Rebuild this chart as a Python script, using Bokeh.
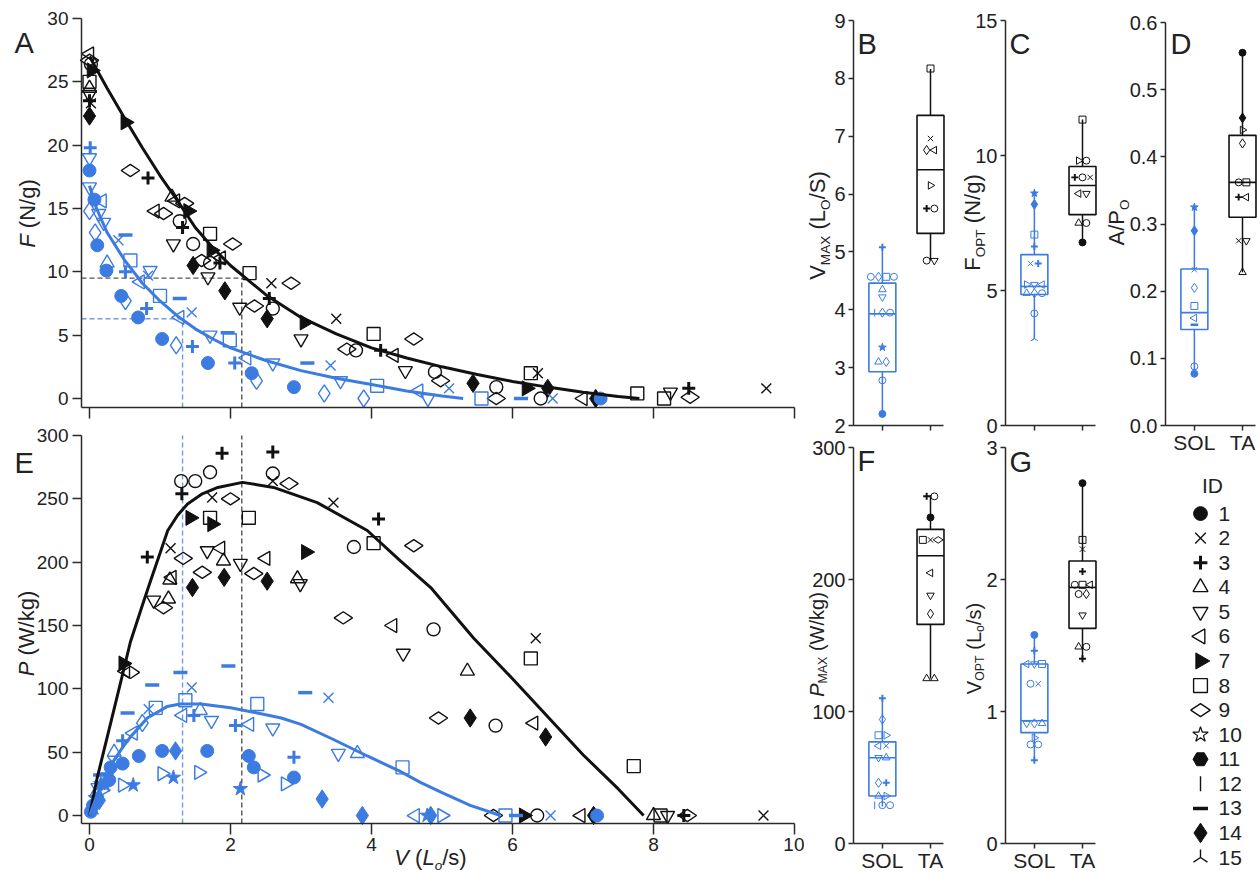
import math
from bokeh.plotting import figure
from bokeh.models import Range1d, FixedTicker, Label, ColumnDataSource, NumeralTickFormatter
from bokeh.layouts import row, column
from bokeh.embed import file_html
from bokeh.resources import INLINE
from bokeh.core.properties import value

# ======================= DATA =======================
# Panel A : force-velocity, TA (black)
ta_fv_v = [0.0, 0.0, 0.02, 0.03, 0.0, 0.0, 0.0, 0.0, 0.02, 0.0,
           0.51, 0.58, 0.83, 1.17, 1.22, 1.35, 1.40, 0.93, 1.05, 1.28, 1.32, 1.19, 1.47, 1.71,
           1.73, 1.71, 1.59, 1.47, 1.85, 1.87, 2.03, 1.68, 1.92, 2.27, 2.13, 2.34, 2.58, 2.86,
           2.55, 2.60, 2.52, 3.05, 3.00, 3.50, 3.65, 3.78, 4.03, 4.13, 4.32, 4.60, 4.48, 4.90,
           4.98, 5.44, 5.77, 5.77, 6.26, 6.36, 6.20, 6.50, 6.40, 7.00, 7.18, 7.77, 8.15, 8.24,
           8.50, 8.52, 9.60]
ta_fv_f = [27.2, 26.7, 26.4, 25.9, 25.0, 24.5, 24.0, 23.5, 23.3, 22.3,
           21.8, 18.0, 17.4, 15.9, 15.6, 15.4, 14.8, 14.8, 14.6, 14.0, 13.5, 12.2, 12.2, 13.0,
           11.7, 10.7, 10.9, 10.5, 10.7, 11.1, 12.2, 9.6, 8.5, 9.9, 7.2, 7.3, 9.1, 9.1,
           7.9, 7.1, 6.3, 6.0, 4.7, 6.3, 3.9, 3.8, 5.1, 3.8, 3.4, 4.7, 2.2, 2.1,
           1.4, 1.2, 0.9, 0.0, 2.0, 2.0, 0.8, 0.8, 0.0, 0.0, 0.0, 0.4, 0.0, 0.5,
           0.8, 0.1, 0.8]
ta_fv_mark = ['<', 'd', 'oo', '>f', 's', '^', 'v', '+', 'x', 'D',
              '>f', 'd', '+', '^', '<', 'd', '>f', '<', 'd', 'oo', '+', 'v', 'oo', 's',
              '>f', 'oo', 'd', 'D', '+', '<', 'd', 'v', 'D', 's', 'v', 'd', 'x', 'd',
              '+', 'oo', 'D', '>f', 'v', 'x', 'd', 'oo', 's', '+', '<', 'd', 'v', 'oo',
              'd', 'D', 'oo', 'd', 's', 'x', '>f', 'D', 'oo', '<', 'D', 's', 's', 'v',
              '+', 'd', 'x']

# Panel A : force-velocity, SOL (blue)
sol_fv_v = [0.01, 0.0, 0.0, 0.0, 0.07, 0.18, 0.0, 0.13, 0.08, 0.20, 0.11, 0.41, 0.51, 0.24,
            0.25, 0.51, 0.58, 0.86, 0.83, 0.72, 0.45, 0.51, 1.00, 1.28, 0.69, 0.81, 1.28, 1.45,
            1.03, 1.23, 1.46, 1.71, 1.96, 1.99, 1.68, 2.06, 2.23, 2.30, 2.37, 2.60, 2.90, 3.09,
            3.42, 3.56, 3.33, 3.89, 4.08, 4.67, 4.80, 5.10, 5.56, 6.12, 6.57, 7.25]
sol_fv_f = [19.8, 19.0, 18.0, 16.7, 15.7, 15.6, 14.8, 14.6, 13.1, 13.9, 12.1, 12.5, 12.9, 10.1,
            10.7, 10.0, 10.9, 10.1, 9.7, 9.2, 8.1, 7.7, 8.1, 7.9, 6.4, 7.1, 6.4, 6.8,
            4.7, 4.2, 4.1, 5.0, 5.2, 4.6, 2.8, 2.8, 3.2, 2.0, 1.4, 2.8, 0.9, 2.8,
            2.6, 1.4, 0.4, 0.0, 1.0, 0.6, 0.0, 0.8, 0.0, 0.0, 0.0, 0.0]
sol_fv_mark = ['+', 'v', 'o', 'v', 'o', '<', 'dn', 'v', 'dn', 'v', 'o', 'x', '-', 'o',
               '^', '+', 's', 'v', 'x', '<', 'o', 'dn', 's', '-', 'o', '+', '<', 'x',
               'o', 'dn', '+', 'v', '-', 's', 'o', '+', '<', 'o', 'dn', 'v', 'o', '-',
               'x', 'v', 'dn', 'dn', 's', '<', 'v', 'x', 's', '-', 'x', 'o']

# Panel A fitted curves
ta_fv_curve_v = [0, 0.25, 0.5, 0.75, 1.0, 1.25, 1.5, 1.75, 2.0, 2.5, 3.0, 3.5, 4.0, 4.5, 5.0,
                 5.5, 6.0, 6.5, 7.0, 7.5, 7.8]
ta_fv_curve_f = [27.0, 24.5, 22.1, 19.8, 17.6, 15.6, 13.5, 11.9, 10.5, 8.2, 6.4, 5.1, 4.0, 3.2,
                 2.5, 1.9, 1.35, 0.9, 0.5, 0.15, 0.0]
sol_fv_curve_v = [0, 0.1, 0.25, 0.5, 0.75, 1.0, 1.25, 1.5, 1.75, 2.0, 2.5, 3.0, 3.5, 4.0, 4.5,
                  5.0, 5.3]
sol_fv_curve_f = [16.8, 15.0, 13.1, 10.9, 9.1, 7.7, 6.5, 5.5, 4.7, 4.0, 3.0, 2.2, 1.6, 1.1, 0.6,
                  0.2, 0.0]

# optimum (dashed guide lines)
ta_v_opt, ta_f_opt = 2.16, 9.5
sol_v_opt, sol_f_opt = 1.32, 6.3

# Panel E : power-velocity, TA (black)
ta_pv_v = [0.48, 0.51, 0.58, 0.82, 1.15, 0.91, 1.12, 1.05, 1.17, 1.14, 1.33, 1.30, 1.50, 1.71,
           1.31, 1.88, 1.43, 1.71, 1.74, 1.74, 2.00, 1.46, 1.60, 1.67, 1.86, 1.90, 1.91, 2.14,
           2.33, 2.26, 2.50, 2.52, 2.60, 2.60, 2.60, 2.83, 3.07, 2.95, 2.99, 3.46, 4.10, 3.75,
           4.03, 4.60, 3.60, 4.30, 4.88, 6.33, 4.45, 5.36, 6.26, 4.95, 5.40, 5.76, 6.30, 6.47,
           7.72, 5.73, 6.16, 6.35, 6.97, 7.15, 8.00, 8.10, 8.20, 8.43, 8.48, 9.56]
ta_pv_p = [120, 114, 113, 204, 211, 170, 171, 164, 188, 186, 203, 264, 264, 271,
           254, 286, 235, 235, 230, 251, 250, 180, 192, 209, 211, 201, 188, 199,
           191, 235, 203, 185, 287, 270, 264, 262, 208, 187, 183, 247, 234, 212,
           215, 213, 156, 150, 147, 140, 128, 114, 124, 77, 77, 71, 73, 62,
           39, 0, 0, 0, 0, 0, 0, 0, 0, 0, 0, 0]
ta_pv_mark = ['>f', '<', 'd', '+', 'x', 'v', '^', 'd', '<', '^', 'd', 'oo', 'oo', 'oo',
              '+', '+', '>f', 's', '>f', 'x', 'd', 'D', 'd', 'v', '<', '^', 'D', 'v',
              'd', 's', '<', 'D', '+', 'oo', 'x', 'd', '>f', '^', 'v', 'x', '+', 'oo',
              's', 'd', 'd', '<', 'oo', 'x', 'v', '^', 's', 'd', 'D', 'oo', '<', 'D',
              's', 'd', '>f', 'oo', '<', 'D', '^', 's', 'v', '+', 'd', 'x']

# Panel E : power-velocity, SOL (blue)
sol_pv_v = [0.54, 0.84, 0.94, 0.89, 1.29, 1.45, 1.36, 1.32, 1.57, 1.48, 1.73, 1.97, 2.07, 2.27,
            2.38, 2.60, 3.06, 3.39, 2.90, 3.53, 3.80, 4.44, 4.62, 0.47, 0.70, 1.03, 1.22, 1.67,
            2.26, 2.33, 2.90, 1.03, 1.19, 1.55, 2.45, 2.78, 2.14, 3.30, 3.87, 0.62, 0.47, 0.47,
            0.62, 0.75, 0.35, 0.02, 0.05, 0.08, 0.10, 0.12, 0.16, 0.20, 0.25, 0.30, 0.18, 0.22,
            0.28, 0.06, 0.14, 0.33, 0.15, 4.79, 4.84, 5.00, 5.90, 6.05, 6.54, 7.20]
sol_pv_p = [81, 84, 85, 103, 113, 101, 91, 79, 83, 79, 75, 118, 71, 72,
            88, 69, 97, 93, 46, 49, 49, 38, 0, 41, 47, 51, 51, 51,
            47, 38, 30, 33, 30, 34, 32, 25, 21, 13, 0, 24, 24, 59,
            65, 73, 50, 3, 8, 14, 18, 22, 25, 28, 33, 38, 20, 24,
            28, 5, 12, 42, 32, 0, 0, 0, 0, 0, 0, 0]
sol_pv_mark = ['-', 'x', 's', '-', '-', 'x', 's', '<', '^', '+', 'v', '-', '+', '<',
               's', 'v', '-', 'x', '+', 'v', '^', 's', '<', 'o', 'o', 'o', 'D', 'o',
               'o', 'o', 'o', '>', 'starf', '>', '>', '>', 'starf', 'D', 'D', 'starf', '>', '+',
               '<', 'dn', '^', 'o', 'o', 'starf', '^', 'v', 'starf', 's', '+', 'o', '>', 'starf',
               'o', 'x', 'D', 'x', '-', 'starf', 'D', '>', 's', '-', 'x', 'o']

# Panel E fitted curves
ta_pv_curve_v = [0, 0.11, 0.3, 0.45, 0.58, 0.75, 0.87, 1.0, 1.11, 1.25, 1.39, 1.6, 1.82, 2.17,
                 2.61, 3.23, 3.94, 4.41, 4.84, 5.45, 6.0, 6.5, 7.0, 7.5, 7.86]
ta_pv_curve_p = [0, 30, 73, 107, 137, 166, 186, 207, 225, 237, 246, 254, 259, 263,
                 259, 247, 225, 201, 180, 140, 108, 78, 48, 21, 0]
sol_pv_curve_v = [0, 0.1, 0.2, 0.34, 0.46, 0.58, 0.82, 1.1, 1.29, 1.58, 2.0, 2.38, 2.72, 3.0,
                  3.46, 3.94, 4.4, 4.7, 5.0, 5.4, 5.83]
sol_pv_curve_p = [0, 15, 28, 43, 53, 62, 77, 86, 88, 88, 85, 81, 77, 72,
                  60, 47, 35, 26, 18, 8, 0]

# Box panels: (whisker low, Q1, median, Q3, whisker high)
groups = ["SOL", "TA"]
vmax_stats = {"SOL": (2.20, 2.93, 3.93, 4.46, 5.08), "TA": (4.85, 5.32, 6.42, 7.36, 8.16)}
fopt_stats = {"SOL": (3.22, 4.85, 5.15, 6.33, 8.60), "TA": (6.78, 7.81, 8.89, 9.59, 11.33)}
apo_stats = {"SOL": (0.077, 0.143, 0.168, 0.233, 0.325), "TA": (0.228, 0.310, 0.362, 0.432, 0.557)}
pmax_stats = {"SOL": (28, 36, 65, 77, 110), "TA": (125, 166, 218, 238, 264)}
vopt_stats = {"SOL": (0.63, 0.84, 0.93, 1.36, 1.58), "TA": (1.40, 1.63, 1.94, 2.14, 2.73)}

vmax_sol = [2.20, 2.78, 3.10, 3.10, 3.35, 3.95, 3.95, 3.95, 4.22, 4.35, 4.57, 4.57, 4.57, 4.57, 5.08]
vmax_sol_mark = ['o', 'oo', '^', 'dn', 'starf', '|', 'dn', 'oo', 'v', '^', 'oo', 'dn', 's', 'oo', '+']
vmax_ta = [8.17, 6.96, 6.76, 6.76, 6.15, 5.75, 5.75, 4.85, 4.85]
vmax_ta_mark = ['s', 'x', 'dn', '<', '>', '+', 'oo', 'oo', 'v']

fopt_sol = [8.60, 8.19, 7.07, 6.63, 6.00, 6.00, 5.22, 5.22, 5.22, 4.90, 4.90, 4.90, 4.15, 3.22]
fopt_sol_mark = ['starf', 'D', 's', '+', 'x', '+', '>', 'v', '<', '^', 'dn', 'oo', 'oo', 'Y']
fopt_ta = [11.33, 9.81, 9.81, 9.19, 9.19, 9.19, 8.59, 8.59, 7.50, 7.50, 6.78]
fopt_ta_mark = ['s', '>', 'oo', '+', 'oo', 'x', '<', 'v', '^', 'oo', 'o']

apo_sol = [0.325, 0.290, 0.232, 0.205, 0.178, 0.160, 0.150, 0.088, 0.077]
apo_sol_mark = ['starf', 'D', 'x', 'dn', 's', '<', '-', 'oo', 'o']
apo_ta = [0.555, 0.458, 0.440, 0.420, 0.362, 0.362, 0.340, 0.340, 0.275, 0.275, 0.228]
apo_ta_mark = ['o', 'D', '>', 'dn', 'oo', 's', '+', '<', 'x', 'v', '^']

pmax_sol = [110, 94, 82, 82, 74, 74, 65, 65, 46, 46, 36, 36, 29, 29, 29]
pmax_sol_mark = ['+', 'dn', 's', '>', '<', 'x', 'v', '^', 'dn', '+', '^', '>', '|', 'oo', 'oo']
pmax_ta = [263, 263, 247, 230, 230, 230, 205, 188, 174, 125, 125]
pmax_ta_mark = ['+', 'oo', 'o', 's', 'x', 'd', '<', 'v', 'dn', '^', '^']

vopt_sol = [1.58, 1.46, 1.36, 1.36, 1.36, 1.21, 1.21, 0.91, 0.91, 0.91, 0.80, 0.75, 0.75, 0.63]
vopt_sol_mark = ['o', '+', '<', 'v', 's', 'oo', 'x', 'v', 'dn', '^', '>', 'oo', 'oo', '+']
vopt_ta = [2.73, 2.30, 2.23, 2.06, 1.96, 1.96, 1.96, 1.89, 1.89, 1.73, 1.49, 1.49, 1.40]
vopt_ta_mark = ['o', 's', 'x', '+', 'oo', 's', '<', 'oo', 'dn', 'v', '^', 'oo', '+']

# Legend
legend_ids = list(range(1, 16))
legend_marks = ['o', 'x', '+', '^', 'v', '<', '>f', 's', 'd', 'star', 'hex', '|', '-', 'D', 'Y']

# ======================= STYLE =======================
BLUE = "#3C7BE2"
BLUE_DASH = "#6E98E0"
INK = "#111111"
AXC = "#2a2a2a"
FONT = "Liberation Sans"

STY = {
    'o':     dict(marker='circle', size=12, fill=True, lw=1.0),
    'oo':    dict(marker='circle', size=12, fill=False, lw=1.4),
    'x':     dict(marker='x', size=13, fill=False, lw=1.4),
    '+':     dict(marker='cross', size=12, fill=False, lw=3.0),
    '^':     dict(marker='triangle', size=13, fill=False, lw=1.4),
    'v':     dict(marker='inverted_triangle', size=13, fill=False, lw=1.4),
    '<':     dict(marker='triangle', size=13, fill=False, lw=1.4, angle=math.pi / 2),
    '>f':    dict(marker='triangle', size=14, fill=True, lw=1.0, angle=-math.pi / 2),
    '>':     dict(marker='triangle', size=13, fill=False, lw=1.5, angle=-math.pi / 2),
    's':     dict(marker='square', size=12, fill=False, lw=1.4),
    'd':     dict(marker='diamond', size=17, fill=False, lw=1.4, angle=math.pi / 2),
    'dn':    dict(marker='diamond', size=16, fill=False, lw=1.4),
    'D':     dict(marker='diamond', size=17, fill=True, lw=1.0),
    'star':  dict(marker='star', size=14, fill=False, lw=1.2),
    'starf': dict(marker='star', size=14, fill=True, lw=1.0),
    'hex':   dict(marker='hex', size=13, fill=True, lw=1.0),
    '|':     dict(marker='dash', size=13, fill=False, lw=1.4, angle=math.pi / 2),
    '-':     dict(marker='dash', size=13, fill=False, lw=3.5),
    'Y':     dict(marker='y', size=14, fill=False, lw=1.4, angle=math.pi),
}

CW = {' ': 278, '(': 333, ')': 333, '/': 278, 'A': 667, 'F': 611, 'L': 556, 'M': 833, 'N': 722,
      'O': 778, 'P': 667, 'S': 667, 'T': 611, 'V': 667, 'W': 944, 'X': 667, 'g': 556, 'k': 500,
      'o': 556, 's': 500}


def tw(t, fs):
    return sum(CW.get(c, 556) for c in t) * fs / 1000.0


def draw_points(p, xs, ys, marks, color, scale=1.0):
    order = []
    for m in marks:
        if m not in order:
            order.append(m)
    for c in order:
        idx = [i for i, m in enumerate(marks) if m == c]
        st = STY[c]
        src = ColumnDataSource(dict(x=[xs[i] for i in idx], y=[ys[i] for i in idx]))
        lw = st['lw'] if scale >= 1 else max(1.0, st['lw'] * 0.65)
        p.scatter('x', 'y', source=src, marker=st['marker'], size=st['size'] * scale,
                  angle=st.get('angle', 0.0), line_color=color, line_width=lw,
                  fill_color=color if st['fill'] else None)


def rng(d0, p0, d1, p1, e0, e1):
    k = (d1 - d0) / (p1 - p0)
    return d0 + (e0 - p0) * k, d0 + (e1 - p0) * k


def make_fig(box, xmap, ymap, xb, yb):
    """box = page (x0, y0, w, h); xmap/ymap = (d0, page px0, d1, page px1); the frame fills the
    figure and the axes sit at fixed data locations with bounds."""
    fx0, fy0, fw, fh = box
    xs, xe = rng(*xmap, fx0, fx0 + fw)
    ys, ye = rng(*ymap, fy0 + fh, fy0)
    p = figure(width=fw, height=fh, x_range=Range1d(xs, xe), y_range=Range1d(ys, ye),
               output_backend="svg", toolbar_location=None, tools="")
    p.min_border_left = p.min_border_right = p.min_border_top = p.min_border_bottom = 0
    p.outline_line_color = None
    p.grid.visible = False
    p.background_fill_color = "white"
    p.border_fill_color = "white"
    p.xaxis.fixed_location = yb[0]
    p.yaxis.fixed_location = xb[0]
    p.xaxis.bounds = xb
    p.yaxis.bounds = yb
    for ax in (p.xaxis[0], p.yaxis[0]):
        ax.axis_line_color = AXC
        ax.axis_line_width = 1.5
        ax.major_tick_line_color = AXC
        ax.major_tick_line_width = 1.5
        ax.minor_tick_line_color = None
        ax.major_tick_in = 0
        ax.major_label_text_font = FONT
        ax.major_label_text_color = "#222222"
    p._page = (fx0, fy0 + fh)
    return p


def page_label(p, X, Y, text, fs, italic=False, angle=0.0, align='left'):
    """(X, Y) = page position of the anchor; vertical anchor is the text middle."""
    fl, fb = p._page
    p.add_layout(Label(x=X - fl, y=fb - Y, x_units='screen', y_units='screen', text=text,
                       angle=angle, text_font=FONT, text_font_size=f"{fs:.1f}px",
                       text_font_style='italic' if italic else 'normal', text_color="#222222",
                       text_align=align, text_baseline='middle'))


def rich(p, X, Y, pieces, fs, rotated=False):
    """Mixed-size text centred on (X, Y); Y (or X when rotated) is the main baseline."""
    items = [(t, k, fs * 0.62 if k.startswith('s') else fs) for t, k in pieces]
    total = sum(tw(t, s) for t, k, s in items)
    pos = -total / 2.0
    for t, k, s in items:
        pos += tw(' ' * (len(t) - len(t.lstrip(' '))), s)
        core = t.strip(' ')
        base = fs * 0.2 if k.startswith('s') else 0.0
        mid = base - 0.35 * s
        if rotated:
            x, y, ang = X + mid, Y - pos, math.pi / 2
        else:
            x, y, ang = X + pos, Y + mid, 0.0
        page_label(p, x, y, core, s, italic=('i' in k), angle=ang)
        pos += tw(core, s)
        pos += tw(' ' * (len(t) - len(t.rstrip(' '))), s)


# ======================= PANEL A =======================
XMAP = (-0.1135, 81, 10, 794)
XB = (-0.1135, 10)
MS = 1.08  # marker scale for the scatter panels
A = make_fig((0, 0, 804, 420), XMAP, (-0.71, 407, 30, 18), XB, (-0.71, 30))
A.xaxis.ticker = FixedTicker(ticks=[0, 2, 4, 6, 8, 10])
A.xaxis.major_label_overrides = {t: "" for t in [0, 2, 4, 6, 8, 10]}
A.xaxis.major_label_text_font_size = "0px"
A.xaxis.major_tick_out = 11
A.yaxis.ticker = FixedTicker(ticks=[0, 5, 10, 15, 20, 25, 30])
A.yaxis.major_tick_out = 9
A.yaxis.major_label_standoff = 4
A.yaxis.major_label_text_font_size = "19px"

A.line([XB[0], ta_v_opt], [ta_f_opt, ta_f_opt], line_color="#555555", line_dash="5 3", line_width=1.4)
A.line([ta_v_opt, ta_v_opt], [-0.71, ta_f_opt], line_color="#555555", line_dash="5 3", line_width=1.4)
A.line([XB[0], sol_v_opt], [sol_f_opt, sol_f_opt], line_color=BLUE_DASH, line_dash="5 3", line_width=1.4)
A.line([sol_v_opt, sol_v_opt], [-0.71, sol_f_opt], line_color=BLUE_DASH, line_dash="5 3", line_width=1.4)
draw_points(A, ta_fv_v, ta_fv_f, ta_fv_mark, INK, scale=MS)
draw_points(A, sol_fv_v, sol_fv_f, sol_fv_mark, BLUE, scale=MS)
A.line(ta_fv_curve_v, ta_fv_curve_f, line_color=INK, line_width=3)
A.line(sol_fv_curve_v, sol_fv_curve_f, line_color=BLUE, line_width=3)
page_label(A, 14, 42, "A", 29)
rich(A, 35, 213, [("F", 'i'), (" (N/g)", 'n')], 22, rotated=True)

# ======================= PANEL E =======================
E = make_fig((0, 420, 804, 453), XMAP, (-6.3, 823, 300, 435), XB, (-6.3, 300))
E.xaxis.ticker = FixedTicker(ticks=[0, 2, 4, 6, 8, 10])
E.xaxis.major_tick_out = 11
E.xaxis.major_label_standoff = 3
E.xaxis.major_label_text_font_size = "19px"
E.yaxis.ticker = FixedTicker(ticks=[0, 50, 100, 150, 200, 250, 300])
E.yaxis.major_tick_out = 9
E.yaxis.major_label_standoff = 4
E.yaxis.major_label_text_font_size = "19px"

E.line([ta_v_opt, ta_v_opt], [-6.3, 300], line_color="#555555", line_dash="5 3", line_width=1.4)
E.line([sol_v_opt, sol_v_opt], [-6.3, 300], line_color=BLUE_DASH, line_dash="5 3", line_width=1.4)
draw_points(E, ta_pv_v, ta_pv_p, ta_pv_mark, INK, scale=MS)
draw_points(E, sol_pv_v, sol_pv_p, sol_pv_mark, BLUE, scale=MS)
E.line(ta_pv_curve_v, ta_pv_curve_p, line_color=INK, line_width=3)
E.line(sol_pv_curve_v, sol_pv_curve_p, line_color=BLUE, line_width=3)
page_label(E, 14, 462, "E", 29)
rich(E, 34, 633, [("P", 'i'), (" (W/kg)", 'n')], 22, rotated=True)
rich(E, 430, 865, [("V", 'i'), (" (", 'n'), ("L", 'i'), ("o", 'si'), ("/s)", 'n')], 22)

# ======================= BOX PANELS =======================
BOXB = (0.4, 2.27)
XPOS = {"SOL": 1, "TA": 2}
COL = {"SOL": BLUE, "TA": INK}


def spread(vals, center, tol, dx=0.16):
    xs = [center] * len(vals)
    order = sorted(range(len(vals)), key=lambda i: vals[i])
    grps, cur = [], [order[0]]
    for i in order[1:]:
        if abs(vals[i] - vals[cur[-1]]) <= tol:
            cur.append(i)
        else:
            grps.append(cur)
            cur = [i]
    grps.append(cur)
    for g in grps:
        n = len(g)
        for k, i in enumerate(g):
            xs[i] = center + (k - (n - 1) / 2.0) * dx
    return xs


def box_panel(box, axis_left, ymap, yb, ticks, stats, sol, solm, ta, tam, show_labels, fmt=None):
    p = make_fig(box, (BOXB[0], axis_left, BOXB[1], axis_left + 90), ymap, BOXB, yb)
    p.xaxis.ticker = FixedTicker(ticks=[1, 2])
    p.xaxis.major_tick_out = 5
    p.xaxis.major_label_standoff = 0
    if show_labels:
        p.xaxis.major_label_overrides = {1: "SOL", 2: "TA"}
        p.xaxis.major_label_text_font_size = "21px"
    else:
        p.xaxis.major_label_overrides = {1: "", 2: ""}
        p.xaxis.major_label_text_font_size = "0px"
    p.yaxis.ticker = FixedTicker(ticks=ticks)
    p.yaxis.major_tick_out = 5
    p.yaxis.major_label_standoff = 3
    p.yaxis.major_label_text_font_size = "20px"
    if fmt:
        p.yaxis.formatter = NumeralTickFormatter(format=fmt)
    hw = 0.28
    for g in groups:
        lo, q1, med, q3, hi = stats[g]
        c = XPOS[g]
        p.segment(x0=[c, c], y0=[lo, q3], x1=[c, c], y1=[q1, hi], line_color=COL[g], line_width=1.5)
        p.quad(left=[c - hw], right=[c + hw], bottom=[q1], top=[q3], fill_color=None,
               line_color=COL[g], line_width=1.6)
        p.segment(x0=[c - hw], y0=[med], x1=[c + hw], y1=[med], line_color=COL[g], line_width=1.6)
    tol = 0.012 * (yb[1] - yb[0])
    draw_points(p, spread(sol, 1, tol), sol, solm, BLUE, scale=0.58)
    draw_points(p, spread(ta, 2, tol), ta, tam, INK, scale=0.58)
    return p


B = box_panel((804, 0, 146, 436), 853, (2, 425, 9, 20), (2, 9), [2, 3, 4, 5, 6, 7, 8, 9],
              vmax_stats, vmax_sol, vmax_sol_mark, vmax_ta, vmax_ta_mark, False)
page_label(B, 857, 43, "B", 29)
rich(B, 825, 225, [("V", 'n'), ("MAX", 's'), (" (L", 'n'), ("O", 's'), ("/S)", 'n')], 22, rotated=True)

C = box_panel((950, 0, 150, 436), 1005, (0, 425, 15, 20), (0, 15), [0, 5, 10, 15],
              fopt_stats, fopt_sol, fopt_sol_mark, fopt_ta, fopt_ta_mark, False)
page_label(C, 1009, 43, "C", 29)
rich(C, 980, 222, [("F", 'n'), ("OPT", 's'), (" (N/g)", 'n')], 22, rotated=True)

D = box_panel((1100, 0, 160, 459), 1165, (0, 425, 0.6, 22), (0, 0.6),
              [0, 0.1, 0.2, 0.3, 0.4, 0.5, 0.6], apo_stats, apo_sol, apo_sol_mark,
              apo_ta, apo_ta_mark, True, fmt="0.0")
page_label(D, 1170, 43, "D", 29)
rich(D, 1124, 222, [("A/P", 'n'), ("O", 's')], 22, rotated=True)

F = box_panel((804, 436, 146, 437), 853, (0, 843, 300, 447), (0, 300), [0, 100, 200, 300],
              pmax_stats, pmax_sol, pmax_sol_mark, pmax_ta, pmax_ta_mark, True)
page_label(F, 857, 460, "F", 29)
rich(F, 823, 644, [("P", 'i'), ("MAX", 's'), (" (W/kg)", 'n')], 20, rotated=True)

G = box_panel((950, 436, 150, 437), 1005, (0, 843, 3, 447), (0, 3), [0, 1, 2, 3],
              vopt_stats, vopt_sol, vopt_sol_mark, vopt_ta, vopt_ta_mark, True)
page_label(G, 1009, 461, "G", 29)
rich(G, 980, 648, [("V", 'n'), ("OPT", 's'), (" (L", 'n'), ("o", 's'), ("/s)", 'n')], 20, rotated=True)

# ======================= LEGEND =======================
L = figure(width=160, height=414, x_range=Range1d(0, 160), y_range=Range1d(15.65, -1.2),
           output_backend="svg", toolbar_location=None, tools="", x_axis_type=None, y_axis_type=None)
L.min_border_left = L.min_border_right = L.min_border_top = L.min_border_bottom = 0
L.outline_line_color = None
L.grid.visible = False
L._page = (1100, 873)
draw_points(L, [100] * len(legend_ids), legend_ids, legend_marks, INK, scale=1.15)
L.text(x=[118] * len(legend_ids), y=legend_ids, text=[str(i) for i in legend_ids],
       text_font=value(FONT), text_font_size="21px", text_baseline="middle", text_align="left",
       text_color="#222222")
page_label(L, 1212, 485, "ID", 21, align='center')

layout = row(column(A, E), column(B, F), column(C, G), column(D, L))
open("out.html", "w").write(file_html(layout, INLINE))
